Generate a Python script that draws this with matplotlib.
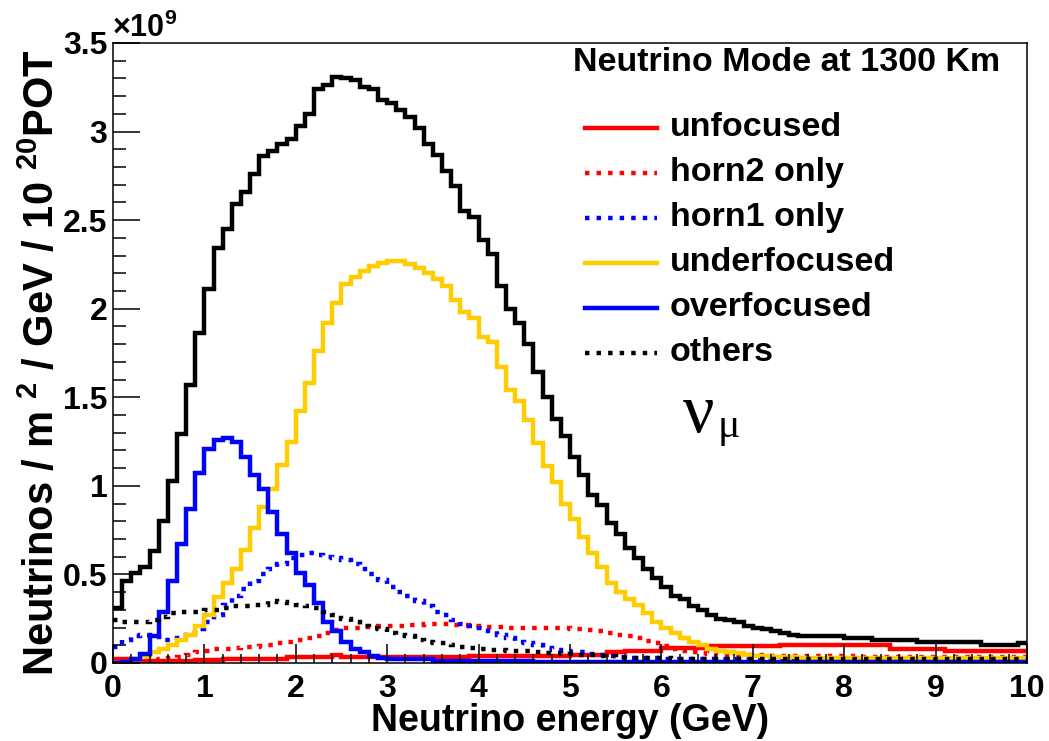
import numpy as np
import matplotlib
matplotlib.use("Agg")
import matplotlib.pyplot as plt

# 100 bins of 0.1 GeV, values in units of 1e9
bin_edges = np.linspace(0, 10, 101)

total = [
    0.31, 0.46, 0.51, 0.54, 0.63, 0.80, 1.03, 1.29, 1.57, 1.86,
    2.11, 2.34, 2.45, 2.59, 2.66, 2.76, 2.86, 2.89, 2.93, 2.96,
    3.03, 3.10, 3.24, 3.26, 3.31, 3.30, 3.29, 3.25, 3.24, 3.18,
    3.16, 3.12, 3.08, 3.02, 2.93, 2.87, 2.78, 2.69, 2.55, 2.52,
    2.39, 2.31, 2.13, 2.00, 1.92, 1.80, 1.64, 1.50, 1.38, 1.28,
    1.16, 1.06, 0.95, 0.89, 0.79, 0.73, 0.65, 0.59, 0.53, 0.48,
    0.43, 0.38, 0.36, 0.32, 0.30, 0.27, 0.25, 0.24, 0.23, 0.21,
    0.20, 0.19, 0.18, 0.17, 0.16, 0.15, 0.15, 0.15, 0.15, 0.15,
    0.14, 0.14, 0.14, 0.13, 0.13, 0.13, 0.13, 0.13, 0.12, 0.12,
    0.12, 0.12, 0.12, 0.12, 0.12, 0.10, 0.10, 0.10, 0.10, 0.11,
]

unfocused = [
    0.02, 0.02, 0.01, 0.01, 0.01, 0.01, 0.01, 0.01, 0.01, 0.017,
    0.017, 0.017, 0.025, 0.025, 0.025, 0.025, 0.025, 0.025, 0.025, 0.035,
    0.035, 0.035, 0.035, 0.035, 0.045, 0.035, 0.035, 0.035, 0.035, 0.035,
    0.035, 0.035, 0.035, 0.035, 0.035, 0.035, 0.035, 0.035, 0.035, 0.04,
    0.04, 0.04, 0.04, 0.04, 0.04, 0.04, 0.04, 0.04, 0.04, 0.04,
    0.045, 0.045, 0.045, 0.045, 0.06, 0.06, 0.07, 0.07, 0.07, 0.07,
    0.085, 0.085, 0.085, 0.085, 0.085, 0.095, 0.095, 0.095, 0.095, 0.095,
    0.095, 0.095, 0.095, 0.10, 0.10, 0.10, 0.10, 0.10, 0.10, 0.10,
    0.10, 0.10, 0.10, 0.10, 0.10, 0.08, 0.08, 0.08, 0.08, 0.08,
    0.08, 0.07, 0.07, 0.07, 0.07, 0.07, 0.07, 0.065, 0.065, 0.065,
]

horn2_only = [
    0.0, 0.0, 0.005, 0.01, 0.015, 0.02, 0.03, 0.035, 0.045, 0.06,
    0.07, 0.08, 0.08, 0.085, 0.09, 0.09, 0.095, 0.10, 0.11, 0.12,
    0.13, 0.14, 0.15, 0.17, 0.185, 0.195, 0.20, 0.205, 0.205, 0.21,
    0.21, 0.21, 0.215, 0.215, 0.22, 0.22, 0.22, 0.215, 0.215, 0.21,
    0.205, 0.205, 0.205, 0.20, 0.20, 0.20, 0.20, 0.20, 0.195, 0.195,
    0.19, 0.19, 0.185, 0.18, 0.17, 0.16, 0.15, 0.14, 0.125, 0.11,
    0.095, 0.08, 0.07, 0.06, 0.055, 0.05, 0.045, 0.045, 0.045, 0.045,
    0.045, 0.04, 0.04, 0.04, 0.04, 0.04, 0.04, 0.04, 0.04, 0.04,
    0.04, 0.035, 0.035, 0.035, 0.035, 0.035, 0.035, 0.035, 0.035, 0.035,
    0.035, 0.035, 0.035, 0.035, 0.035, 0.035, 0.035, 0.035, 0.035, 0.035,
]

horn1_only = [
    0.09, 0.13, 0.15, 0.16, 0.15, 0.13, 0.13, 0.14, 0.16, 0.19,
    0.23, 0.27, 0.33, 0.38, 0.42, 0.46, 0.50, 0.53, 0.56, 0.59,
    0.61, 0.62, 0.61, 0.60, 0.59, 0.58, 0.56, 0.53, 0.50, 0.47,
    0.43, 0.40, 0.38, 0.35, 0.32, 0.29, 0.27, 0.24, 0.22, 0.21,
    0.20, 0.18, 0.16, 0.14, 0.12, 0.11, 0.10, 0.085, 0.075, 0.07,
    0.06, 0.06, 0.05, 0.045, 0.04, 0.035, 0.03, 0.03, 0.03, 0.03,
    0.025, 0.02, 0.02, 0.02, 0.02, 0.02, 0.02, 0.02, 0.02, 0.02,
    0.02, 0.015, 0.015, 0.015, 0.015, 0.015, 0.015, 0.015, 0.015, 0.015,
    0.015, 0.015, 0.015, 0.015, 0.015, 0.01, 0.01, 0.01, 0.01, 0.01,
    0.01, 0.01, 0.01, 0.01, 0.01, 0.01, 0.01, 0.01, 0.01, 0.01,
]

underfocused = [
    0.0, 0.0, 0.02, 0.04, 0.06, 0.08, 0.10, 0.13, 0.16, 0.21,
    0.27, 0.37, 0.45, 0.53, 0.64, 0.76, 0.88, 0.98, 1.12, 1.25,
    1.42, 1.58, 1.76, 1.92, 2.03, 2.14, 2.18, 2.21, 2.24, 2.26,
    2.27, 2.27, 2.25, 2.23, 2.20, 2.17, 2.13, 2.05, 1.98, 1.95,
    1.84, 1.81, 1.67, 1.54, 1.48, 1.37, 1.24, 1.11, 1.02, 0.90,
    0.81, 0.71, 0.62, 0.54, 0.45, 0.40, 0.36, 0.33, 0.28, 0.23,
    0.20, 0.17, 0.14, 0.12, 0.10, 0.08, 0.07, 0.06, 0.055, 0.045,
    0.04, 0.04, 0.035, 0.035, 0.035, 0.03, 0.03, 0.03, 0.03, 0.03,
    0.03, 0.03, 0.03, 0.03, 0.03, 0.03, 0.03, 0.03, 0.03, 0.03,
    0.03, 0.03, 0.03, 0.03, 0.03, 0.03, 0.03, 0.03, 0.03, 0.03,
]

overfocused = [
    0.0, 0.005, 0.02, 0.05, 0.15, 0.29, 0.46, 0.67, 0.87, 1.07,
    1.21, 1.26, 1.27, 1.25, 1.16, 1.06, 0.98, 0.85, 0.73, 0.62,
    0.51, 0.44, 0.34, 0.23, 0.18, 0.12, 0.08, 0.06, 0.04, 0.03,
    0.02, 0.02, 0.02, 0.02, 0.02, 0.01, 0.01, 0.01, 0.01, 0.01,
    0.01, 0.01, 0.01, 0.01, 0.01, 0.01, 0.005, 0.005, 0.005, 0.005,
    0.005, 0.005, 0.005, 0.005, 0.005, 0.005, 0.005, 0.005, 0.005, 0.005,
    0.005, 0.005, 0.005, 0.005, 0.005, 0.005, 0.005, 0.005, 0.005, 0.005,
    0.005, 0.005, 0.005, 0.005, 0.005, 0.005, 0.005, 0.005, 0.005, 0.005,
    0.005, 0.005, 0.005, 0.005, 0.005, 0.005, 0.005, 0.005, 0.005, 0.005,
    0.005, 0.005, 0.005, 0.005, 0.005, 0.005, 0.005, 0.005, 0.005, 0.005,
]

others = [
    0.24, 0.23, 0.23, 0.23, 0.24, 0.26, 0.28, 0.29, 0.29, 0.29,
    0.30, 0.30, 0.31, 0.32, 0.32, 0.33, 0.33, 0.35, 0.345, 0.34,
    0.33, 0.32, 0.31, 0.29, 0.27, 0.25, 0.23, 0.21, 0.20, 0.19,
    0.17, 0.16, 0.15, 0.13, 0.12, 0.11, 0.11, 0.10, 0.09, 0.085,
    0.08, 0.075, 0.073, 0.07, 0.068, 0.065, 0.06, 0.057, 0.055, 0.05,
    0.048, 0.045, 0.043, 0.04, 0.037, 0.03, 0.03, 0.03, 0.03, 0.03,
    0.03, 0.025, 0.025, 0.025, 0.025, 0.025, 0.025, 0.025, 0.025, 0.025,
    0.02, 0.02, 0.02, 0.02, 0.02, 0.02, 0.02, 0.02, 0.02, 0.02,
    0.02, 0.02, 0.02, 0.02, 0.02, 0.02, 0.02, 0.02, 0.02, 0.02,
    0.02, 0.02, 0.02, 0.02, 0.02, 0.02, 0.02, 0.02, 0.02, 0.02,
]

labels = ["unfocused", "horn2 only", "horn1 only", "underfocused", "overfocused", "others"]
colors = ["#ff0000", "#ff0000", "#0000ff", "#ffcc00", "#0000ff", "#000000"]
dotted = (0, (1.0, 1.6))
styles = ["-", dotted, dotted, "-", "-", dotted]
components = [unfocused, horn2_only, horn1_only, underfocused, overfocused, others]

plt.rcParams["font.family"] = "Liberation Sans"
plt.rcParams["font.weight"] = "bold"
plt.rcParams["axes.labelweight"] = "bold"
plt.rcParams["mathtext.fontset"] = "custom"
plt.rcParams["mathtext.rm"] = "Liberation Sans:bold"
plt.rcParams["mathtext.default"] = "rm"

fig = plt.figure(figsize=(10.49, 7.41), dpi=100)
ax = fig.add_axes([0.1077, 0.1053, 0.8713, 0.8367])

lw = 3.2
for vals, col, ls in zip(components, colors, styles):
    ax.stairs(vals, bin_edges, color=col, linestyle=ls, linewidth=lw, baseline=None)
ax.stairs(total, bin_edges, color="black", linewidth=lw, baseline=None)

ax.set_xlim(0, 10)
ax.set_ylim(0, 3.5)
ax.set_xticks(np.arange(0, 11, 1))
ax.set_xticks(np.arange(0, 10.01, 0.2), minor=True)
ax.set_yticks(np.arange(0, 3.51, 0.5))
ax.set_yticks(np.arange(0, 3.51, 0.1), minor=True)
ax.set_yticklabels(["0", "0.5", "1", "1.5", "2", "2.5", "3", "3.5"])
ax.tick_params(axis="both", which="both", direction="in", top=False, right=False,
               labelsize=23, width=1.1)
ax.tick_params(axis="x", which="major", length=13.4, pad=8)
ax.tick_params(axis="x", which="minor", length=6.7)
ax.tick_params(axis="y", which="major", length=19.7, pad=4)
ax.tick_params(axis="y", which="minor", length=9.7)
for sp in ax.spines.values():
    sp.set_linewidth(1.1)

ax.set_xlabel("Neutrino energy (GeV)", fontsize=27, fontweight="bold")
ax.xaxis.set_label_coords(0.5, -0.064)
ax.set_ylabel("Neutrinos / m $^{2}$ / GeV / 10 $^{20}$POT", fontsize=30,
              fontweight="bold")
ax.yaxis.set_label_coords(-0.055, 0.484)

ax.text(-0.001, 1.0097, "\u00d710$^{9}$", transform=ax.transAxes, ha="left",
        va="baseline", fontsize=22)

# legend drawn by hand to match the ROOT layout
ax.text(0.737, 0.968, "Neutrino Mode at 1300 Km", transform=ax.transAxes,
        ha="center", va="center", fontsize=24.5)
for i, (lab, col, ls) in enumerate(zip(labels, colors, styles)):
    y = 0.863 - 0.0725 * i
    ax.plot([0.516, 0.595], [y, y], transform=ax.transAxes, color=col,
            linestyle=ls, linewidth=lw)
    ax.text(0.609, y, lab, transform=ax.transAxes, ha="left", va="center",
            fontsize=24.5)

ax.text(0.624, 0.3726, "\u03bd", transform=ax.transAxes, ha="left", va="baseline",
        fontsize=50, family="Liberation Serif", fontweight="normal")
ax.text(0.661, 0.3645, "\u03bc", transform=ax.transAxes, ha="left", va="baseline",
        fontsize=30, family="Liberation Serif", fontweight="normal")

fig.savefig("out.png", dpi=100)
